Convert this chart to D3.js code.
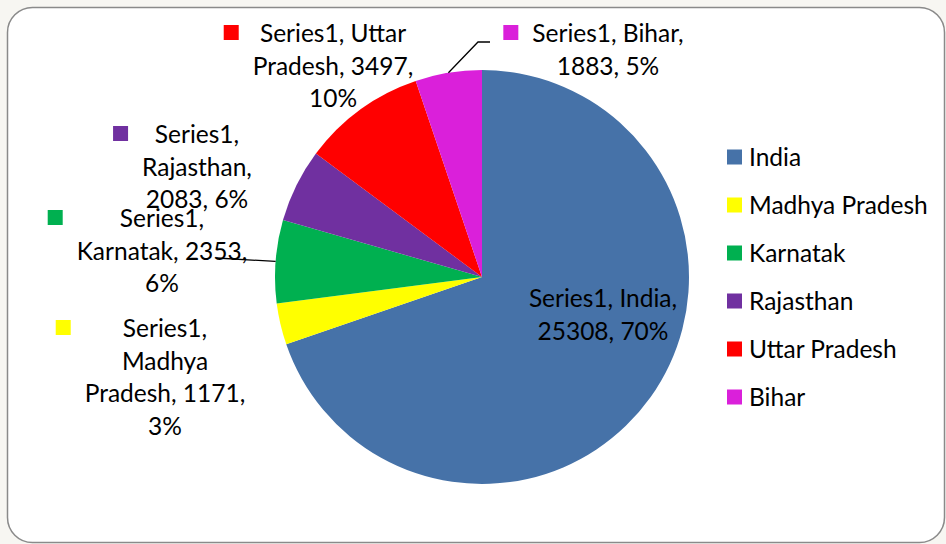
<!DOCTYPE html>
<html>
<head>
<meta charset="utf-8">
<script src="https://cdn.jsdelivr.net/npm/d3@7.9.0/dist/d3.min.js"></script>
<style>
  html, body { margin: 0; padding: 0; background: #f7f6f2; }
  svg { display: block; font-family: Lato, "Open Sans", sans-serif; }
</style>
</head>
<body>
<svg id="chart" width="946" height="544"></svg>
<script>
// data
const states = ['India', 'Madhya Pradesh', 'Karnatak', 'Rajasthan', 'Uttar Pradesh', 'Bihar'];
const values = [25308, 1171, 2353, 2083, 3497, 1883];
const colours = ['#4672a8', '#ffff00', '#00b050', '#7030a0', '#ff0000', '#da20da'];
const seriesName = 'Series1';

// label layout: centre x, first baseline, words per line
const labelX = [603, 165, 162, 197, 333, 608];
const labelY = [307, 337, 227, 143, 42, 42];
const wordsPerLine = [[2, 2], [1, 1, 2, 1], [1, 2, 1], [1, 1, 2], [2, 2, 1], [2, 2]];
const showKey = [false, true, true, true, true, true];
// leader lines: start points (null = none)
const leaderStart = [null, null, [[217, 258]], null, null, [[490, 42], [478, 42]]];

const fontSize = 24.5, lineH = 32.5;
const cx = 482, cy = 277, radius = 207;

const svg = d3.select('#chart');

// card
svg.append('rect')
  .attr('x', 7.5).attr('y', 7.5)
  .attr('width', 937).attr('height', 535)
  .attr('rx', 25)
  .attr('fill', '#ffffff')
  .attr('stroke', '#8a8a8a')
  .attr('stroke-width', 1.5);

const total = d3.sum(values);
const data = states.map((s, i) => ({ name: s, value: values[i], idx: i }));

const pie = d3.pie().sort(null).value(d => d.value);
const arc = d3.arc().innerRadius(0).outerRadius(radius);
const edge = d3.arc().innerRadius(radius).outerRadius(radius);
const arcs = pie(data);

const g = svg.append('g').attr('transform', `translate(${cx},${cy})`);
g.selectAll('path')
  .data(arcs)
  .join('path')
  .attr('d', arc)
  .attr('fill', d => colours[d.data.idx]);

// leader lines
arcs.forEach(a => {
  const pts = leaderStart[a.data.idx];
  if (!pts) return;
  const [ex, ey] = edge.centroid(a);
  const all = pts.concat([[cx + ex, cy + ey]]);
  svg.append('path')
    .attr('d', d3.line()(all))
    .attr('fill', 'none')
    .attr('stroke', '#000')
    .attr('stroke-width', 1.3);
});

// data labels
arcs.forEach(a => {
  const i = a.data.idx;
  const pct = Math.round(a.data.value / total * 100) + '%';
  const words = `${seriesName}, ${a.data.name}, ${a.data.value}, ${pct}`.split(' ');
  const lines = [];
  let k = 0;
  wordsPerLine[i].forEach(n => { lines.push(words.slice(k, k + n).join(' ')); k += n; });

  const t = svg.append('text')
    .attr('text-anchor', 'middle')
    .attr('font-size', fontSize)
    .attr('fill', '#000');
  lines.forEach((l, j) => {
    t.append('tspan').attr('x', labelX[i]).attr('y', labelY[i] + j * lineH).text(l);
  });

  if (showKey[i]) {
    let maxW = 0;
    t.selectAll('tspan').each(function () { maxW = Math.max(maxW, this.getComputedTextLength()); });
    const left = labelX[i] - maxW / 2;
    svg.append('rect')
      .attr('x', left - 14 - 15).attr('y', labelY[i] - 17)
      .attr('width', 15).attr('height', 15)
      .attr('fill', colours[i]);
  }
});

// legend
const legend = svg.append('g').attr('transform', 'translate(727,157)');
const items = legend.selectAll('g')
  .data(states)
  .join('g')
  .attr('transform', (d, i) => `translate(0,${i * 48})`);
items.append('rect')
  .attr('x', 0).attr('y', -7.5)
  .attr('width', 15).attr('height', 15)
  .attr('fill', (d, i) => colours[i]);
items.append('text')
  .attr('x', 22).attr('y', 8.5)
  .attr('font-size', fontSize)
  .attr('fill', '#000')
  .text(d => d);
</script>
</body>
</html>
